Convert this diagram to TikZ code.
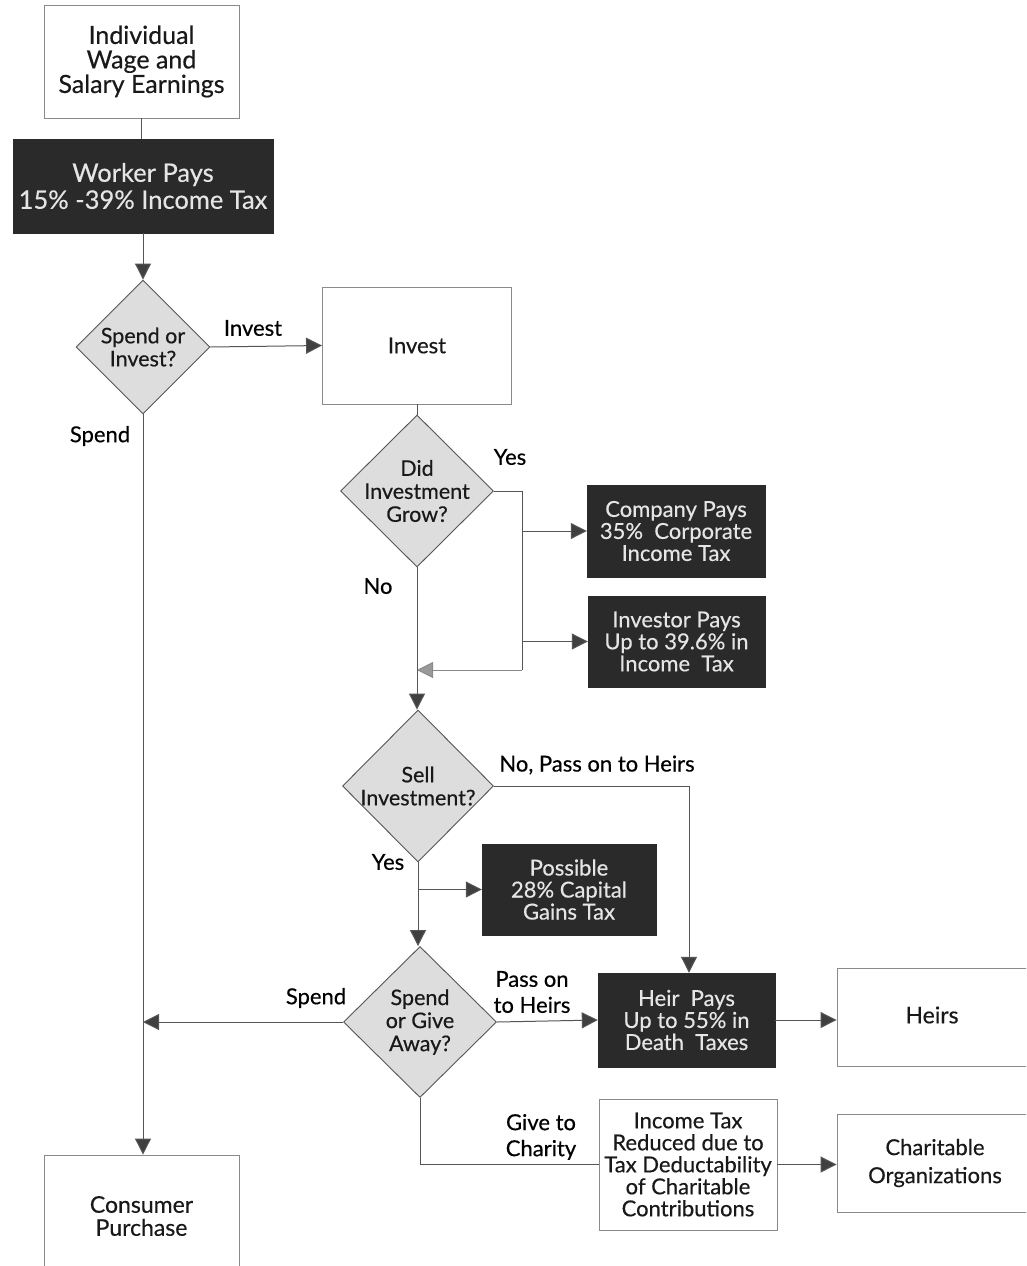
\documentclass[tikz,border=0pt]{standalone}
\usepackage{fontspec}
\setmainfont{Lato}[FakeBold=0.4]
\usetikzlibrary{shapes.geometric,arrows.meta}
\definecolor{dark}{HTML}{2A2A2A}
\definecolor{lightfill}{HTML}{DDDDDD}
\definecolor{linec}{HTML}{555555}
\definecolor{boxline}{HTML}{8A8A8A}
\begin{document}
\begin{tikzpicture}[x=1pt,y=-1pt,
  txt/.style={font=\fontsize{22}{22}\selectfont, text=black!90, align=center},
  dtxt/.style={font=\fontsize{21.5}{23}\selectfont, text=black!90, align=center},
  whitebox/.style={draw=boxline, line width=0.9pt, fill=white, rectangle, inner sep=0pt},
  darkbox/.style={draw=dark, fill=dark, rectangle, inner sep=0pt, text=white!90!black, align=center, font=\fontsize{22}{22}\selectfont},
  dia/.style={draw=linec, line width=0.9pt, fill=lightfill, diamond, aspect=1, inner sep=0pt},
  conn/.style={draw=linec, line width=1pt},
  arr/.style={conn, -{Triangle[length=16pt,width=16pt,fill=black!75]}},
  garr/.style={draw=boxline, line width=1pt, -{Triangle[length=16pt,width=16pt,fill=black!40]}},
  lbl/.style={font=\fontsize{22}{26}\selectfont, text=black, align=center}
]
\useasboundingbox (0,0) rectangle (1026,1266);
\clip (0,0) rectangle (1026,1266);
\fill[white] (0,0) rectangle (1026,1266);

% boxes
\node[whitebox, txt, minimum width=195pt, minimum height=113pt, font=\fontsize{25}{24.5}\selectfont] (ind) at (141.5,61.5) {Individual\\Wage and\\Salary Earnings};
\node[darkbox, minimum width=260pt, minimum height=94pt, font=\fontsize{25.5}{27}\selectfont] (wrk) at (143,186) {Worker Pays\\15\% -39\% Income Tax};
\node[dia, minimum width=134pt, minimum height=134pt] (d1) at (143,347) {};
\node[dtxt] (d1t) at (143,347) {Spend or\\Invest?};
\node[whitebox, txt, minimum width=189pt, minimum height=117pt] (inv) at (417,345.5) {Invest};
\node[dia, minimum width=153pt, minimum height=152pt] (d2) at (417,491) {};
\node[dtxt] (d2t) at (417,491) {Did\\Investment\\Grow?};
\node[darkbox, minimum width=178pt, minimum height=92pt] (comp) at (676,531) {Company Pays\\35\%\ \ Corporate\\Income Tax};
\node[darkbox, minimum width=177pt, minimum height=91pt] (invp) at (676.5,641.5) {Investor Pays\\Up to 39.6\% in\\Income\ \ Tax};
\node[dia, minimum width=151pt, minimum height=152pt] (d3) at (418,786) {};
\node[dtxt] (d3t) at (418,786) {Sell\\Investment?};
\node[darkbox, minimum width=174pt, minimum height=91pt] (poss) at (569,889.5) {Possible\\28\% Capital\\Gains Tax};
\node[dia, minimum width=153pt, minimum height=151pt] (d4) at (420,1022) {};
\node[dtxt] (d4t) at (420,1022) {Spend\\or Give\\Away?};
\node[darkbox, minimum width=177pt, minimum height=94pt] (heir) at (686.5,1020) {Heir\ \ Pays\\Up to 55\% in\\Death\ \ Taxes};
\node[whitebox, txt, minimum width=178pt, minimum height=131pt] (inc) at (688,1164.5) {Income Tax\\Reduced due to\\Tax Deductability\\of Charitable\\Contributions};
\node[whitebox, minimum width=200pt, minimum height=98pt] (heirs) at (937,1017) {};
\node[txt, font=\fontsize{23}{26}\selectfont] (heirst) at (932,1015) {Heirs};
\node[whitebox, minimum width=200pt, minimum height=98pt] (char) at (937,1163) {};
\node[txt, font=\fontsize{22}{28}\selectfont] (chart) at (935,1163) {Charitable\\Organizations};
\node[whitebox, minimum width=195pt, minimum height=150pt] (cons) at (141.5,1230) {};
\node[txt, font=\fontsize{23}{23}\selectfont] (const) at (141.5,1216) {Consumer\\Purchase};

% connectors
\draw[conn] (ind.south) -- (ind.south |- wrk.north);
\draw[arr] (wrk.south) -- (d1.north);
\draw[arr] (d1.east) -- (inv.west);
\draw[arr] (d1.south) -- (d1.south |- cons.north);
\draw[conn] (inv.south) -- (d2.north);

\coordinate (ya) at (522,491);
\coordinate (yb) at (522,670);
\coordinate (back) at (417,670);
\draw[conn] (d2.east) -- (ya) -- (yb);
\draw[garr] (yb) -- (back);
\draw[arr] (comp.west -| ya) -- (comp.west);
\draw[arr] (invp.west -| ya) -- (invp.west);
\draw[arr] (d2.south) -- (d2.south |- d3.north);

\coordinate (nh) at (689,786);
\draw[arr] (d3.east) -- (nh) -- (nh |- heir.north);
\draw[arr] (d3.south) -- (d3.south |- d4.north);
\draw[arr] (poss.west -| d3.south) -- (poss.west);

\draw[arr] (d4.west) -- (d4.west -| d1.south);
\draw[arr] (d4.east) -- (heir.west);
\draw[conn] (d4.south) -- (d4.south |- inc.west) -- (inc.west);

\draw[arr] (heir.east) -- (heir.east -| heirs.west);
\draw[arr] (inc.east) -- (inc.east -| char.west);

% labels
\node[lbl] (l1) at (253,328) {Invest};
\node[lbl] (l2) at (100,436) {Spend};
\node[lbl] (l3) at (510,457) {Yes};
\node[lbl] (l4) at (378,586) {No};
\node[lbl] (l5) at (597,765) {No, Pass on to Heirs};
\node[lbl] (l6) at (388,862) {Yes};
\node[lbl] (l7) at (316,998) {Spend};
\node[lbl] (l8) at (532,992) {Pass on\\to Heirs};
\node[lbl] (l9) at (541,1137) {Give to\\Charity};
\end{tikzpicture}
\end{document}
